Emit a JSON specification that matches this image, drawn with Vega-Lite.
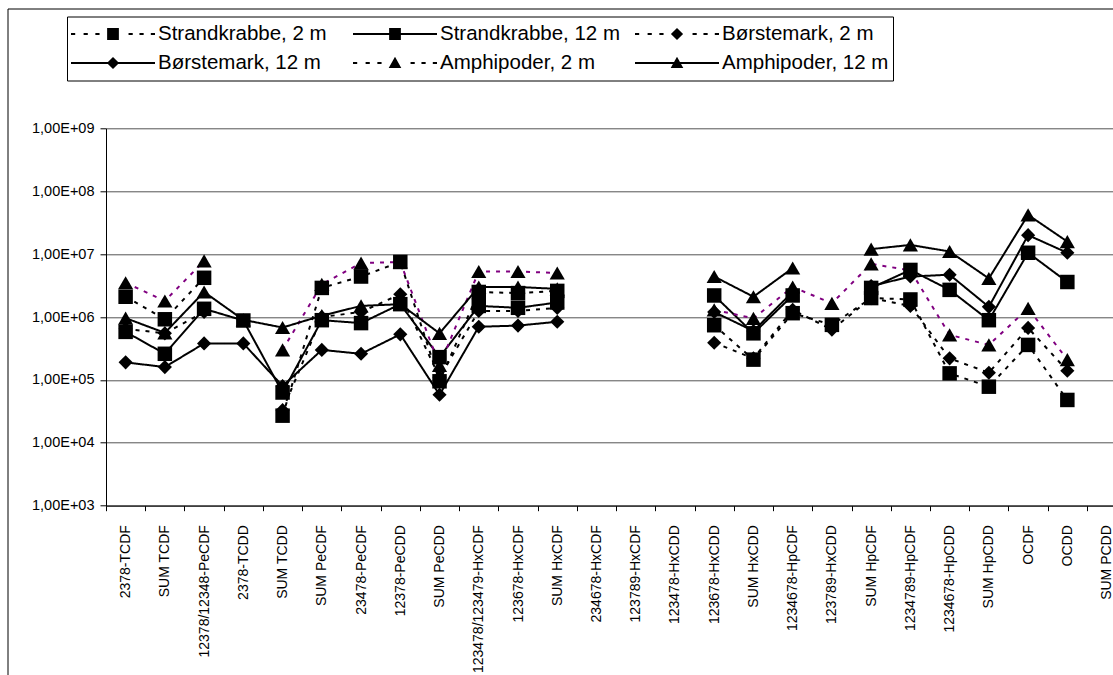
{
 "$schema": "https://vega.github.io/schema/vega-lite/v6.json",
 "width": 1007,
 "height": 377.4,
 "autosize": {"type": "none"},
 "padding": {"left": 106, "top": 128.3, "right": 0, "bottom": 169.3},
 "background": "white",
 "config": {"view": {"stroke": null}, "font": "Liberation Sans"},
 "data": {"values": [
  {"c":"2378-TCDF","s":"Strandkrabbe, 2 m","v":2100000},
  {"c":"SUM TCDF","s":"Strandkrabbe, 2 m","v":920000},
  {"c":"12378/12348-PeCDF","s":"Strandkrabbe, 2 m","v":4200000},
  {"c":"2378-TCDD","s":"Strandkrabbe, 2 m","v":null},
  {"c":"SUM TCDD","s":"Strandkrabbe, 2 m","v":27000},
  {"c":"SUM PeCDF","s":"Strandkrabbe, 2 m","v":2900000},
  {"c":"23478-PeCDF","s":"Strandkrabbe, 2 m","v":4400000},
  {"c":"12378-PeCDD","s":"Strandkrabbe, 2 m","v":7500000},
  {"c":"SUM PeCDD","s":"Strandkrabbe, 2 m","v":95000},
  {"c":"123478/123479-HxCDF","s":"Strandkrabbe, 2 m","v":2500000},
  {"c":"123678-HxCDF","s":"Strandkrabbe, 2 m","v":2400000},
  {"c":"SUM HxCDF","s":"Strandkrabbe, 2 m","v":2600000},
  {"c":"234678-HxCDF","s":"Strandkrabbe, 2 m","v":null},
  {"c":"123789-HxCDF","s":"Strandkrabbe, 2 m","v":null},
  {"c":"123478-HxCDD","s":"Strandkrabbe, 2 m","v":null},
  {"c":"123678-HxCDD","s":"Strandkrabbe, 2 m","v":740000},
  {"c":"SUM HxCDD","s":"Strandkrabbe, 2 m","v":210000},
  {"c":"1234678-HpCDF","s":"Strandkrabbe, 2 m","v":1150000},
  {"c":"123789-HxCDD","s":"Strandkrabbe, 2 m","v":750000},
  {"c":"SUM HpCDF","s":"Strandkrabbe, 2 m","v":2000000},
  {"c":"1234789-HpCDF","s":"Strandkrabbe, 2 m","v":1900000},
  {"c":"1234678-HpCDD","s":"Strandkrabbe, 2 m","v":127000},
  {"c":"SUM HpCDD","s":"Strandkrabbe, 2 m","v":78000},
  {"c":"OCDF","s":"Strandkrabbe, 2 m","v":360000},
  {"c":"OCDD","s":"Strandkrabbe, 2 m","v":48000},
  {"c":"SUM PCDD","s":"Strandkrabbe, 2 m","v":null},

  {"c":"2378-TCDF","s":"Strandkrabbe, 12 m","v":580000},
  {"c":"SUM TCDF","s":"Strandkrabbe, 12 m","v":260000},
  {"c":"12378/12348-PeCDF","s":"Strandkrabbe, 12 m","v":1350000},
  {"c":"2378-TCDD","s":"Strandkrabbe, 12 m","v":880000},
  {"c":"SUM TCDD","s":"Strandkrabbe, 12 m","v":63000},
  {"c":"SUM PeCDF","s":"Strandkrabbe, 12 m","v":890000},
  {"c":"23478-PeCDF","s":"Strandkrabbe, 12 m","v":800000},
  {"c":"12378-PeCDD","s":"Strandkrabbe, 12 m","v":1600000},
  {"c":"SUM PeCDD","s":"Strandkrabbe, 12 m","v":230000},
  {"c":"123478/123479-HxCDF","s":"Strandkrabbe, 12 m","v":1500000},
  {"c":"123678-HxCDF","s":"Strandkrabbe, 12 m","v":1400000},
  {"c":"SUM HxCDF","s":"Strandkrabbe, 12 m","v":1700000},
  {"c":"234678-HxCDF","s":"Strandkrabbe, 12 m","v":null},
  {"c":"123789-HxCDF","s":"Strandkrabbe, 12 m","v":null},
  {"c":"123478-HxCDD","s":"Strandkrabbe, 12 m","v":null},
  {"c":"123678-HxCDD","s":"Strandkrabbe, 12 m","v":2200000},
  {"c":"SUM HxCDD","s":"Strandkrabbe, 12 m","v":550000},
  {"c":"1234678-HpCDF","s":"Strandkrabbe, 12 m","v":2200000},
  {"c":"123789-HxCDD","s":"Strandkrabbe, 12 m","v":null},
  {"c":"SUM HpCDF","s":"Strandkrabbe, 12 m","v":2900000},
  {"c":"1234789-HpCDF","s":"Strandkrabbe, 12 m","v":5600000},
  {"c":"1234678-HpCDD","s":"Strandkrabbe, 12 m","v":2700000},
  {"c":"SUM HpCDD","s":"Strandkrabbe, 12 m","v":890000},
  {"c":"OCDF","s":"Strandkrabbe, 12 m","v":10500000},
  {"c":"OCDD","s":"Strandkrabbe, 12 m","v":3600000},
  {"c":"SUM PCDD","s":"Strandkrabbe, 12 m","v":null},

  {"c":"2378-TCDF","s":"Børstemark, 2 m","v":650000},
  {"c":"SUM TCDF","s":"Børstemark, 2 m","v":550000},
  {"c":"12378/12348-PeCDF","s":"Børstemark, 2 m","v":1200000},
  {"c":"2378-TCDD","s":"Børstemark, 2 m","v":null},
  {"c":"SUM TCDD","s":"Børstemark, 2 m","v":33000},
  {"c":"SUM PeCDF","s":"Børstemark, 2 m","v":1000000},
  {"c":"23478-PeCDF","s":"Børstemark, 2 m","v":1200000},
  {"c":"12378-PeCDD","s":"Børstemark, 2 m","v":2300000},
  {"c":"SUM PeCDD","s":"Børstemark, 2 m","v":110000},
  {"c":"123478/123479-HxCDF","s":"Børstemark, 2 m","v":1250000},
  {"c":"123678-HxCDF","s":"Børstemark, 2 m","v":1250000},
  {"c":"SUM HxCDF","s":"Børstemark, 2 m","v":1400000},
  {"c":"234678-HxCDF","s":"Børstemark, 2 m","v":null},
  {"c":"123789-HxCDF","s":"Børstemark, 2 m","v":null},
  {"c":"123478-HxCDD","s":"Børstemark, 2 m","v":null},
  {"c":"123678-HxCDD","s":"Børstemark, 2 m","v":390000},
  {"c":"SUM HxCDD","s":"Børstemark, 2 m","v":220000},
  {"c":"1234678-HpCDF","s":"Børstemark, 2 m","v":1300000},
  {"c":"123789-HxCDD","s":"Børstemark, 2 m","v":630000},
  {"c":"SUM HpCDF","s":"Børstemark, 2 m","v":2000000},
  {"c":"1234789-HpCDF","s":"Børstemark, 2 m","v":1500000},
  {"c":"1234678-HpCDD","s":"Børstemark, 2 m","v":220000},
  {"c":"SUM HpCDD","s":"Børstemark, 2 m","v":130000},
  {"c":"OCDF","s":"Børstemark, 2 m","v":670000},
  {"c":"OCDD","s":"Børstemark, 2 m","v":140000},
  {"c":"SUM PCDD","s":"Børstemark, 2 m","v":null},

  {"c":"2378-TCDF","s":"Børstemark, 12 m","v":190000},
  {"c":"SUM TCDF","s":"Børstemark, 12 m","v":160000},
  {"c":"12378/12348-PeCDF","s":"Børstemark, 12 m","v":380000},
  {"c":"2378-TCDD","s":"Børstemark, 12 m","v":380000},
  {"c":"SUM TCDD","s":"Børstemark, 12 m","v":80000},
  {"c":"SUM PeCDF","s":"Børstemark, 12 m","v":300000},
  {"c":"23478-PeCDF","s":"Børstemark, 12 m","v":260000},
  {"c":"12378-PeCDD","s":"Børstemark, 12 m","v":530000},
  {"c":"SUM PeCDD","s":"Børstemark, 12 m","v":58000},
  {"c":"123478/123479-HxCDF","s":"Børstemark, 12 m","v":700000},
  {"c":"123678-HxCDF","s":"Børstemark, 12 m","v":730000},
  {"c":"SUM HxCDF","s":"Børstemark, 12 m","v":840000},
  {"c":"234678-HxCDF","s":"Børstemark, 12 m","v":null},
  {"c":"123789-HxCDF","s":"Børstemark, 12 m","v":null},
  {"c":"123478-HxCDD","s":"Børstemark, 12 m","v":null},
  {"c":"123678-HxCDD","s":"Børstemark, 12 m","v":1200000},
  {"c":"SUM HxCDD","s":"Børstemark, 12 m","v":600000},
  {"c":"1234678-HpCDF","s":"Børstemark, 12 m","v":2500000},
  {"c":"123789-HxCDD","s":"Børstemark, 12 m","v":null},
  {"c":"SUM HpCDF","s":"Børstemark, 12 m","v":3100000},
  {"c":"1234789-HpCDF","s":"Børstemark, 12 m","v":4400000},
  {"c":"1234678-HpCDD","s":"Børstemark, 12 m","v":4700000},
  {"c":"SUM HpCDD","s":"Børstemark, 12 m","v":1450000},
  {"c":"OCDF","s":"Børstemark, 12 m","v":20000000},
  {"c":"OCDD","s":"Børstemark, 12 m","v":10500000},
  {"c":"SUM PCDD","s":"Børstemark, 12 m","v":null},

  {"c":"2378-TCDF","s":"Amphipoder, 2 m","v":3500000},
  {"c":"SUM TCDF","s":"Amphipoder, 2 m","v":1800000},
  {"c":"12378/12348-PeCDF","s":"Amphipoder, 2 m","v":7800000},
  {"c":"2378-TCDD","s":"Amphipoder, 2 m","v":null},
  {"c":"SUM TCDD","s":"Amphipoder, 2 m","v":300000},
  {"c":"SUM PeCDF","s":"Amphipoder, 2 m","v":3300000},
  {"c":"23478-PeCDF","s":"Amphipoder, 2 m","v":7200000},
  {"c":"12378-PeCDD","s":"Amphipoder, 2 m","v":7500000},
  {"c":"SUM PeCDD","s":"Amphipoder, 2 m","v":170000},
  {"c":"123478/123479-HxCDF","s":"Amphipoder, 2 m","v":5300000},
  {"c":"123678-HxCDF","s":"Amphipoder, 2 m","v":5300000},
  {"c":"SUM HxCDF","s":"Amphipoder, 2 m","v":5000000},
  {"c":"234678-HxCDF","s":"Amphipoder, 2 m","v":null},
  {"c":"123789-HxCDF","s":"Amphipoder, 2 m","v":null},
  {"c":"123478-HxCDD","s":"Amphipoder, 2 m","v":null},
  {"c":"123678-HxCDD","s":"Amphipoder, 2 m","v":1300000},
  {"c":"SUM HxCDD","s":"Amphipoder, 2 m","v":950000},
  {"c":"1234678-HpCDF","s":"Amphipoder, 2 m","v":3000000},
  {"c":"123789-HxCDD","s":"Amphipoder, 2 m","v":1650000},
  {"c":"SUM HpCDF","s":"Amphipoder, 2 m","v":7000000},
  {"c":"1234789-HpCDF","s":"Amphipoder, 2 m","v":5500000},
  {"c":"1234678-HpCDD","s":"Amphipoder, 2 m","v":520000},
  {"c":"SUM HpCDD","s":"Amphipoder, 2 m","v":360000},
  {"c":"OCDF","s":"Amphipoder, 2 m","v":1370000},
  {"c":"OCDD","s":"Amphipoder, 2 m","v":210000},
  {"c":"SUM PCDD","s":"Amphipoder, 2 m","v":null},

  {"c":"2378-TCDF","s":"Amphipoder, 12 m","v":960000},
  {"c":"SUM TCDF","s":"Amphipoder, 12 m","v":560000},
  {"c":"12378/12348-PeCDF","s":"Amphipoder, 12 m","v":2500000},
  {"c":"2378-TCDD","s":"Amphipoder, 12 m","v":900000},
  {"c":"SUM TCDD","s":"Amphipoder, 12 m","v":680000},
  {"c":"SUM PeCDF","s":"Amphipoder, 12 m","v":1050000},
  {"c":"23478-PeCDF","s":"Amphipoder, 12 m","v":1500000},
  {"c":"12378-PeCDD","s":"Amphipoder, 12 m","v":1600000},
  {"c":"SUM PeCDD","s":"Amphipoder, 12 m","v":550000},
  {"c":"123478/123479-HxCDF","s":"Amphipoder, 12 m","v":3000000},
  {"c":"123678-HxCDF","s":"Amphipoder, 12 m","v":3000000},
  {"c":"SUM HxCDF","s":"Amphipoder, 12 m","v":2800000},
  {"c":"234678-HxCDF","s":"Amphipoder, 12 m","v":null},
  {"c":"123789-HxCDF","s":"Amphipoder, 12 m","v":null},
  {"c":"123478-HxCDD","s":"Amphipoder, 12 m","v":null},
  {"c":"123678-HxCDD","s":"Amphipoder, 12 m","v":4400000},
  {"c":"SUM HxCDD","s":"Amphipoder, 12 m","v":2100000},
  {"c":"1234678-HpCDF","s":"Amphipoder, 12 m","v":6000000},
  {"c":"123789-HxCDD","s":"Amphipoder, 12 m","v":null},
  {"c":"SUM HpCDF","s":"Amphipoder, 12 m","v":12000000},
  {"c":"1234789-HpCDF","s":"Amphipoder, 12 m","v":14000000},
  {"c":"1234678-HpCDD","s":"Amphipoder, 12 m","v":11000000},
  {"c":"SUM HpCDD","s":"Amphipoder, 12 m","v":4100000},
  {"c":"OCDF","s":"Amphipoder, 12 m","v":42000000},
  {"c":"OCDD","s":"Amphipoder, 12 m","v":15800000},
  {"c":"SUM PCDD","s":"Amphipoder, 12 m","v":null}
 ]},
 "layer": [
  {
   "layer": [
    {
     "mark": {"type": "line", "strokeWidth": 2, "invalid": "break-paths-filter-domains"},
     "encoding": {
      "x": {"field": "c", "type": "ordinal", "bandPosition": 0.5,
       "scale": {"type": "band", "domain": ["2378-TCDF","SUM TCDF","12378/12348-PeCDF","2378-TCDD","SUM TCDD","SUM PeCDF","23478-PeCDF","12378-PeCDD","SUM PeCDD","123478/123479-HxCDF","123678-HxCDF","SUM HxCDF","234678-HxCDF","123789-HxCDF","123478-HxCDD","123678-HxCDD","SUM HxCDD","1234678-HpCDF","123789-HxCDD","SUM HpCDF","1234789-HpCDF","1234678-HpCDD","SUM HpCDD","OCDF","OCDD","SUM PCDD"], "range": [0, 1020.2], "paddingInner": 0, "paddingOuter": 0},
       "axis": {"title": null, "labelAngle": -90, "labelFontSize": 14, "labelFont": "Liberation Sans", "labelColor": "black", "labelPadding": 14, "tickSize": 5, "tickBand": "extent", "domainColor": "black", "tickColor": "black", "grid": false, "labelOverlap": false, "labelLimit": 400}},
      "y": {"field": "v", "type": "quantitative",
       "scale": {"type": "log", "domain": [1000, 1000000000], "nice": false},
       "axis": {"title": null, "values": [1000, 10000, 100000, 1000000, 10000000, 100000000, 1000000000], "labelExpr": "'1,00E+0' + round(log(datum.value)/LN10)", "grid": true, "gridColor": "#555555", "gridWidth": 1, "domainColor": "black", "tickColor": "black", "tickSize": 6, "labelPadding": 6, "labelFontSize": 14.5, "labelFont": "Liberation Sans", "labelColor": "black"}},
      "color": {"field": "s", "type": "nominal", "legend": null,
       "scale": {"domain": ["Strandkrabbe, 2 m","Strandkrabbe, 12 m","Børstemark, 2 m","Børstemark, 12 m","Amphipoder, 2 m","Amphipoder, 12 m"], "range": ["#000000","#000000","#000000","#000000","#800080","#000000"]}},
      "strokeDash": {"field": "s", "type": "nominal", "legend": null,
       "scale": {"domain": ["Strandkrabbe, 2 m","Strandkrabbe, 12 m","Børstemark, 2 m","Børstemark, 12 m","Amphipoder, 2 m","Amphipoder, 12 m"], "range": [[4,6],[1,0],[4,6],[1,0],[4,6],[1,0]]}},
      "order": {"value": null}
     }
    },
    {
     "transform": [{"filter": {"field": "s", "oneOf": ["Strandkrabbe, 2 m", "Strandkrabbe, 12 m"]}}],
     "mark": {"type": "point", "shape": "square", "filled": true, "color": "black", "size": 210, "opacity": 1},
     "encoding": {
      "x": {"field": "c", "type": "ordinal", "bandPosition": 0.5},
      "y": {"field": "v", "type": "quantitative"}
     }
    },
    {
     "transform": [{"filter": {"field": "s", "oneOf": ["Børstemark, 2 m", "Børstemark, 12 m"]}}],
     "mark": {"type": "point", "shape": "diamond", "filled": true, "color": "black", "size": 200, "opacity": 1},
     "encoding": {
      "x": {"field": "c", "type": "ordinal", "bandPosition": 0.5},
      "y": {"field": "v", "type": "quantitative"}
     }
    },
    {
     "transform": [{"filter": {"field": "s", "oneOf": ["Amphipoder, 2 m", "Amphipoder, 12 m"]}}],
     "mark": {"type": "point", "shape": "triangle-up", "filled": true, "color": "black", "size": 230, "opacity": 1},
     "encoding": {
      "x": {"field": "c", "type": "ordinal", "bandPosition": 0.5},
      "y": {"field": "v", "type": "quantitative"}
     }
    },
    {
     "transform": [{"filter": "false"}],
     "mark": {"type": "point", "filled": true, "color": "black", "opacity": 1, "size": 7056},
     "encoding": {
      "shape": {"field": "s", "type": "nominal",
       "scale": {"domain": ["Strandkrabbe, 2 m","Børstemark, 12 m","Strandkrabbe, 12 m","Amphipoder, 2 m","Børstemark, 2 m","Amphipoder, 12 m"],
        "range": [
         "M-1,-0.024L-0.9,-0.024L-0.9,0.024L-1,0.024ZM-0.7,-0.024L-0.6,-0.024L-0.6,0.024L-0.7,0.024ZM-0.42,-0.024L-0.32,-0.024L-0.32,0.024L-0.42,0.024ZM0.37,-0.024L0.47,-0.024L0.47,0.024L0.37,0.024ZM0.63,-0.024L0.73,-0.024L0.73,0.024L0.63,0.024ZM0.9,-0.024L1,-0.024L1,0.024L0.9,0.024ZM-0.14,-0.14L0.14,-0.14L0.14,0.14L-0.14,0.14Z",
         "M-1,-0.024L1,-0.024L1,0.024L-1,0.024ZM-0.145,0L0,-0.145L0.145,0L0,0.145Z",
         "M-1,-0.024L1,-0.024L1,0.024L-1,0.024ZM-0.14,-0.14L0.14,-0.14L0.14,0.14L-0.14,0.14Z",
         "M-1,-0.024L-0.9,-0.024L-0.9,0.024L-1,0.024ZM-0.7,-0.024L-0.6,-0.024L-0.6,0.024L-0.7,0.024ZM-0.42,-0.024L-0.32,-0.024L-0.32,0.024L-0.42,0.024ZM0.37,-0.024L0.47,-0.024L0.47,0.024L0.37,0.024ZM0.63,-0.024L0.73,-0.024L0.73,0.024L0.63,0.024ZM0.9,-0.024L1,-0.024L1,0.024L0.9,0.024ZM-0.15,0.12L0,-0.15L0.15,0.12Z",
         "M-1,-0.024L-0.9,-0.024L-0.9,0.024L-1,0.024ZM-0.7,-0.024L-0.6,-0.024L-0.6,0.024L-0.7,0.024ZM-0.42,-0.024L-0.32,-0.024L-0.32,0.024L-0.42,0.024ZM0.37,-0.024L0.47,-0.024L0.47,0.024L0.37,0.024ZM0.63,-0.024L0.73,-0.024L0.73,0.024L0.63,0.024ZM0.9,-0.024L1,-0.024L1,0.024L0.9,0.024ZM-0.145,0L0,-0.145L0.145,0L0,0.145Z",
         "M-1,-0.024L1,-0.024L1,0.024L-1,0.024ZM-0.15,0.12L0,-0.15L0.15,0.12Z"
        ]},
       "legend": {"orient": "none", "legendX": -39, "legendY": -111.8, "columns": 3, "gridAlign": "all", "columnPadding": 14, "rowPadding": 2, "padding": 4, "strokeColor": "black", "fillColor": "white", "labelFont": "Liberation Sans", "labelFontSize": 20.5, "labelColor": "black", "labelOffset": 3, "symbolSize": 7056, "clipHeight": 27, "symbolStrokeWidth": 0, "symbolFillColor": "black", "title": null, "labelLimit": 0}}
     }
    }
   ]
  },
  {
   "transform": [{"filter": "false"}],
   "mark": {"type": "point", "opacity": 0},
   "encoding": {
    "x": {"field": "v", "type": "quantitative", "scale": {"domain": [0, 1], "range": [-98.5, 1007], "nice": false, "zero": false},
     "axis": {"orient": "top", "offset": 119.8, "domain": true, "domainColor": "black", "domainWidth": 1, "ticks": false, "labels": false, "grid": false, "title": null}},
    "y": {"field": "v", "type": "quantitative", "scale": {"domain": [0, 1], "range": [546.7, -119.8], "nice": false, "zero": false},
     "axis": {"orient": "left", "offset": 98.5, "domain": true, "domainColor": "black", "domainWidth": 1, "ticks": false, "labels": false, "grid": false, "title": null}}
   }
  }
 ],
 "resolve": {"scale": {"x": "independent", "y": "independent"}, "axis": {"x": "independent", "y": "independent"}}
}
